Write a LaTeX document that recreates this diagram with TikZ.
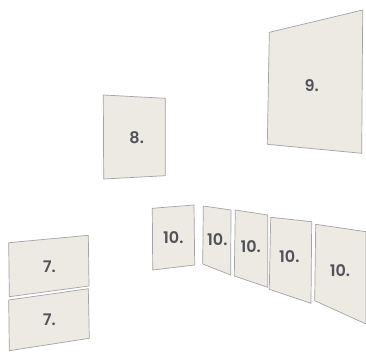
\documentclass[tikz,border=0pt]{standalone}
\usepackage{fontspec}
\setmainfont{Poppins}[BoldFont={Poppins SemiBold}]
\definecolor{wall}{HTML}{EDE9E3}
\definecolor{edge}{HTML}{A3A3A3}
\definecolor{ink}{HTML}{505257}
\tikzset{
  panel/.style={draw=edge, fill=wall, line width=0.7pt, line join=round},
  tag/.style={text=ink, font=\fontsize{16}{16}\selectfont\bfseries, inner sep=0pt},
}

\begin{document}
\begin{tikzpicture}[x=1pt, y=-1pt]
    \useasboundingbox (0,0) rectangle (366,351);
    % 9.
    \draw[panel] (269.3,32.3) -- (362.7,10) -- (361.7,153.3) -- (267.3,144.3) -- cycle;
    \node[tag] (p9) at (311.7,86) {9.};
    % 8.
    \draw[panel] (103.3,95) -- (165.3,98.3) -- (165.3,175.7) -- (103.7,179) -- cycle;
    \node[tag] (p8) at (136.7,137.7) {8.};
    % 7.
    \draw[panel] (8.7,242.7) -- (88.3,235.3) -- (89,286) -- (9.3,296.7) -- cycle;
    \node[tag] (p7a) at (49.3,266.7) {7.};
    \draw[panel] (8.7,300) -- (88.3,288.7) -- (89.3,338.3) -- (9.3,350.7) -- cycle;
    \node[tag] (p7b) at (49.3,319.3) {7.};
    % 10.
    \draw[panel] (152.3,208.3) -- (194,205) -- (194.7,265) -- (152.7,270) -- cycle;
    \node[tag] (p10a) at (173.3,237.3) {10.};
    \draw[panel] (203.3,206) -- (231,210) -- (230.7,275) -- (202.7,264) -- cycle;
    \node[tag] (p10b) at (217.3,240) {10.};
    \draw[panel] (235.3,210) -- (267.7,215) -- (267.7,287.3) -- (234.3,276) -- cycle;
    \node[tag] (p10c) at (250.7,246.7) {10.};
    \draw[panel] (270.7,217.3) -- (311.7,221.7) -- (311,303.3) -- (269.3,289.3) -- cycle;
    \node[tag] (p10d) at (289.3,256.7) {10.};
    \draw[panel] (315.7,224.3) -- (366,231.7) -- (366,324) -- (314.7,300.7) -- cycle;
    \node[tag] (p10e) at (340,270.7) {10.};
\end{tikzpicture}
\end{document}
